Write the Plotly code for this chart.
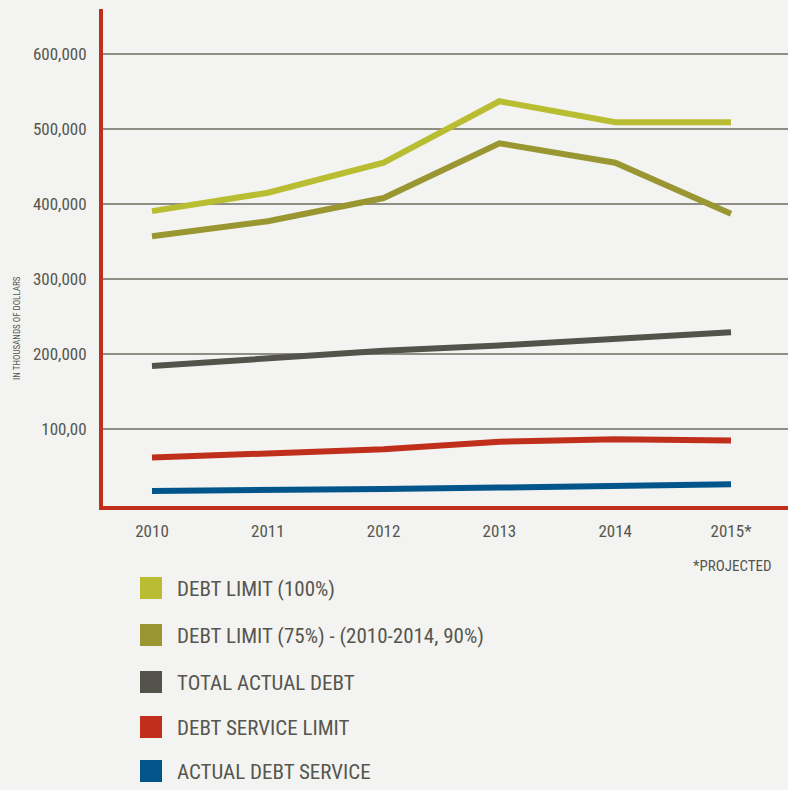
import plotly.graph_objects as go

# ---------------- data ----------------
years = ["2010", "2011", "2012", "2013", "2014", "2015*"]
debt_limit_100 = [390500, 415000, 455000, 537000, 509000, 509000]
debt_limit_75 = [357000, 377000, 408000, 481000, 455000, 387000]
total_actual_debt = [184000, 193500, 204500, 211500, 220000, 229000]
debt_service_limit = [62000, 67000, 73000, 83000, 86500, 84600]
actual_debt_service = [17500, 17800, 20000, 22000, 24100, 26300]

series_names = [
    "DEBT LIMIT (100%)",
    "DEBT LIMIT (75%) - (2010-2014, 90%)",
    "TOTAL ACTUAL DEBT",
    "DEBT SERVICE LIMIT",
    "ACTUAL DEBT SERVICE",
]
series_values = [debt_limit_100, debt_limit_75, total_actual_debt,
                 debt_service_limit, actual_debt_service]
series_colors = ["#b8bd31", "#9a9632", "#53534b", "#c02f1c", "#02558a"]

y_tick_values = [100000, 200000, 300000, 400000, 500000, 600000]
y_tick_labels = ["100,00", "200,000", "300,000", "400,000", "500,000", "600,000"]
y_axis_title = "IN THOUSANDS OF DOLLARS"
footnote = "*PROJECTED"

# ---------------- layout constants ----------------
W, H = 788, 790
L, R, T, B = 103, 0, 9, 284
PW, PH = W - L - R, H - T - B
BG = "#f3f3f1"
TXT = "#56564e"
FONT = "Roboto Condensed, Liberation Sans Narrow, DejaVu Sans Condensed, Liberation Sans, sans-serif"


def px_x(px):
    return (px - L) / PW


def px_y(py):
    return (H - B - py) / PH


xpos = list(range(len(years)))

fig = go.Figure()
for name, vals, col in zip(series_names, series_values, series_colors):
    fig.add_trace(go.Scatter(
        x=xpos, y=vals, mode="lines", name=name,
        line=dict(color=col, width=6), showlegend=False,
        hoverinfo="skip"))

# legend (manual, square swatches)
leg_y = [588, 635, 682, 727, 771]
shapes = []
annotations = []
for name, col, cy in zip(series_names, series_colors, leg_y):
    shapes.append(dict(type="rect", xref="paper", yref="paper",
                       x0=px_x(140), x1=px_x(162), y0=px_y(cy + 11), y1=px_y(cy - 11),
                       fillcolor=col, line=dict(width=0), layer="above"))
    annotations.append(dict(xref="paper", yref="paper", x=px_x(175), y=px_y(cy + 1),
                            text=name, showarrow=False, xanchor="left", yanchor="middle",
                            font=dict(family=FONT, size=21, color=TXT)))

annotations.append(dict(xref="paper", yref="paper", x=px_x(17), y=px_y(328),
                        text=y_axis_title, showarrow=False, textangle=-90,
                        xanchor="center", yanchor="middle",
                        font=dict(family=FONT, size=9, color=TXT)))
annotations.append(dict(xref="paper", yref="paper", x=px_x(732), y=px_y(566),
                        text=footnote, showarrow=False,
                        xanchor="center", yanchor="middle",
                        font=dict(family=FONT, size=15, color=TXT)))

x0 = -(152 - L) / 115.8
x1 = (W - R - 152) / 115.8

fig.update_layout(
    width=W, height=H,
    margin=dict(l=L, r=R, t=T, b=B, pad=0),
    paper_bgcolor=BG, plot_bgcolor=BG,
    font=dict(family=FONT, size=17, color=TXT),
    showlegend=False,
    shapes=shapes, annotations=annotations,
    xaxis=dict(range=[x0, x1], tickvals=xpos, ticktext=years,
               showgrid=False, zeroline=False, showline=True,
               linecolor="#c02f1c", linewidth=4, ticks="",
               ticklabelstandoff=7,
               tickfont=dict(family=FONT, size=17, color=TXT)),
    yaxis=dict(range=[-2600, 660000], tickvals=y_tick_values, ticktext=y_tick_labels,
               showgrid=True, gridcolor="#8e8e85", gridwidth=1.5,
               zeroline=False, showline=True,
               linecolor="#c02f1c", linewidth=4, ticks="",
               ticklabelstandoff=9,
               tickfont=dict(family=FONT, size=17, color=TXT)),
)

fig.write_html("out.html", config={"displayModeBar": False},
               post_script="document.body.style.margin='0px';document.body.style.padding='0px';")
